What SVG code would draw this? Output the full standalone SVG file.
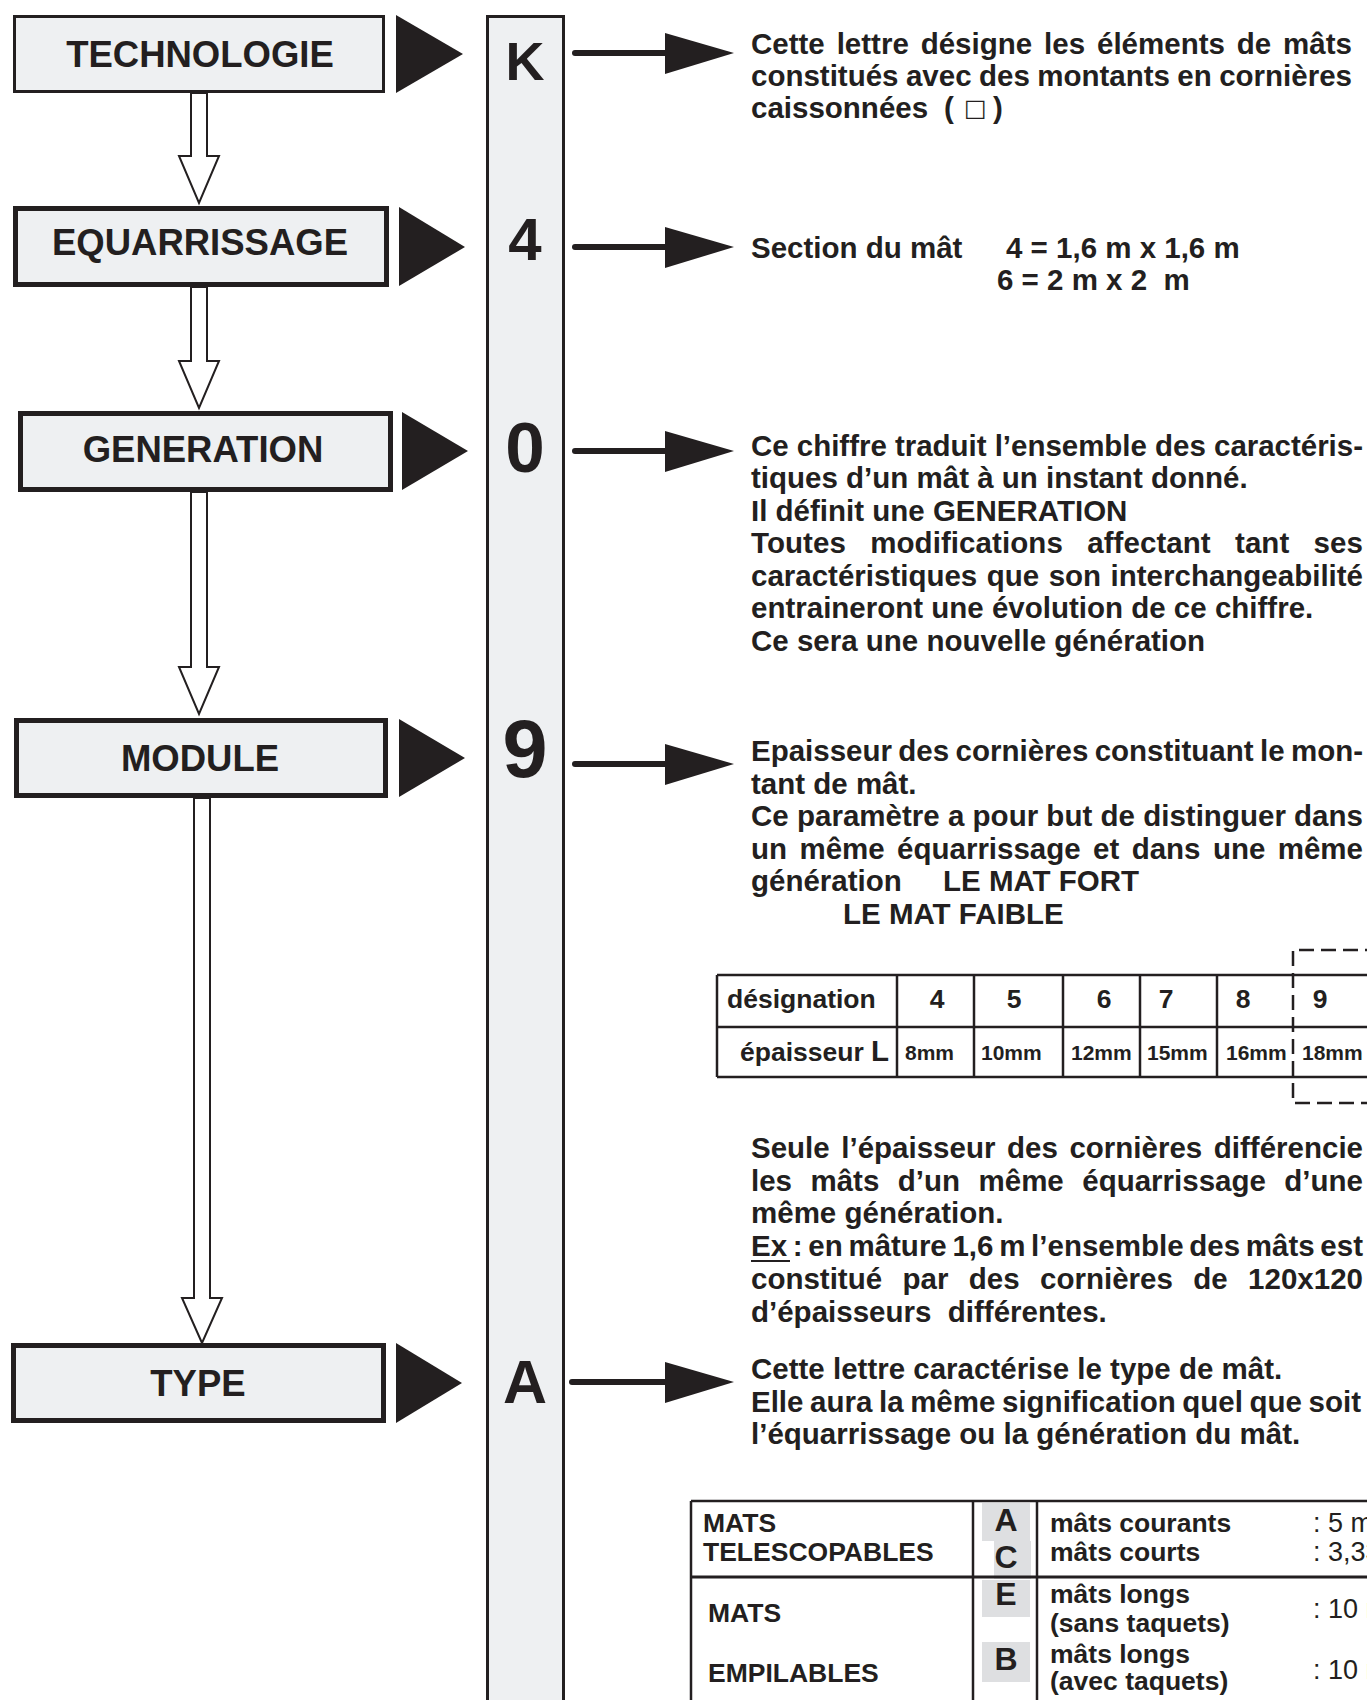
<svg xmlns="http://www.w3.org/2000/svg" width="1367" height="1700" viewBox="0 0 1367 1700">
  <style>
    .box { fill: #eef0f2; stroke: #231f20; stroke-width: 5; }
    .lbl { font-family: "Liberation Sans", Arial, sans-serif; font-weight: bold; font-size: 36.5px; fill: #231f20; text-anchor: middle; }
    .big { font-family: "Liberation Sans", Arial, sans-serif; font-weight: bold; fill: #231f20; text-anchor: middle; }
    .t { font-family: "Liberation Sans", Arial, sans-serif; font-weight: bold; font-size: 29.5px; fill: #231f20; }
    .tb { font-family: "Liberation Sans", Arial, sans-serif; font-weight: bold; font-size: 26.5px; fill: #231f20; }
    .sm { font-family: "Liberation Sans", Arial, sans-serif; font-weight: bold; font-size: 21px; fill: #231f20; }
    .rg { font-family: "Liberation Sans", Arial, sans-serif; font-weight: normal; font-size: 27px; fill: #231f20; }
    .tri { fill: #231f20; }
    .hollow { fill: #ffffff; stroke: #231f20; stroke-width: 2; stroke-linejoin: miter; }
    .shaft { stroke: #231f20; stroke-width: 6; stroke-linecap: round; }
    .head { fill: #231f20; }
    .grid { stroke: #231f20; stroke-width: 2.5; fill: none; }
    .dash { stroke: #231f20; stroke-width: 2.5; fill: none; stroke-dasharray: 15 7; }
    .hl { fill: #dedfe1; }
  </style>

  <!-- code column -->
  <g id="code-bar">
    <rect x="487.5" y="16.5" width="76" height="1700" fill="#eef0f2" stroke="#231f20" stroke-width="3"/>
    <text class="big" x="525" y="80" font-size="54">K</text>
    <text class="big" x="525" y="260" font-size="60">4</text>
    <text class="big" x="525" y="472" font-size="71">0</text>
    <text class="big" x="525" y="777" font-size="81">9</text>
    <text class="big" x="525" y="1403" font-size="61">A</text>
  </g>

  <!-- field boxes -->
  <g id="node-technologie">
    <rect class="box" x="14.5" y="16.5" width="369" height="75" style="stroke-width:3"/>
    <text class="lbl" x="200" y="67">TECHNOLOGIE</text>
  </g>
  <g id="node-equarrissage">
    <rect class="box" x="15.5" y="208.5" width="371" height="76"/>
    <text class="lbl" x="200" y="255">EQUARRISSAGE</text>
  </g>
  <g id="node-generation">
    <rect class="box" x="20.5" y="413.5" width="370" height="76"/>
    <text class="lbl" x="203" y="462">GENERATION</text>
  </g>
  <g id="node-module">
    <rect class="box" x="16.5" y="720.5" width="369" height="75"/>
    <text class="lbl" x="200" y="771">MODULE</text>
  </g>
  <g id="node-type">
    <rect class="box" x="13.5" y="1345.5" width="370" height="75"/>
    <text class="lbl" x="198" y="1396">TYPE</text>
  </g>

  <!-- connectors -->
  <g id="connectors">
    <!-- hollow arrows between fields -->
    <polygon class="hollow" points="191,93 191,156 179,156 199,203 219,156 207,156 207,93"/>
    <polygon class="hollow" points="191,287 191,361 179,361 199,408 219,361 207,361 207,287"/>
    <polygon class="hollow" points="191,492 191,667 179,667 199,714 219,667 207,667 207,492"/>
    <polygon class="hollow" points="194,798 194,1298 182,1298 202,1343 222,1298 210,1298 210,798"/>
    <!-- field to code -->
    <polygon class="tri" points="396,15 396,93 463,54"/>
    <polygon class="tri" points="399,207 399,286 465,247"/>
    <polygon class="tri" points="402,412 402,490 468,451"/>
    <polygon class="tri" points="399,719 399,797 465,758"/>
    <polygon class="tri" points="396,1343 396,1423 462,1383"/>
    <!-- code to description -->
    <line class="shaft" x1="575" y1="53" x2="668" y2="53"/>
    <polygon class="head" points="665,33 665,74 734,53"/>
    <line class="shaft" x1="575" y1="247" x2="668" y2="247"/>
    <polygon class="head" points="665,227 665,268 734,247"/>
    <line class="shaft" x1="575" y1="451" x2="668" y2="451"/>
    <polygon class="head" points="665,431 665,472 734,451"/>
    <line class="shaft" x1="575" y1="764" x2="668" y2="764"/>
    <polygon class="head" points="665,744 665,785 734,764"/>
    <line class="shaft" x1="572" y1="1382" x2="668" y2="1382"/>
    <polygon class="head" points="665,1362 665,1403 734,1382"/>
  </g>

  <!-- K : technology -->
  <g id="desc-technologie">
    <text class="t" x="751" y="54" textLength="601" style="word-spacing:3.7px">Cette lettre désigne les éléments de mâts</text>
    <text class="t" x="751" y="86" textLength="601" style="word-spacing:-0.8px">constitués avec des montants en cornières</text>
    <text class="t" x="751" y="118">caissonnées</text>
    <text class="t" x="944" y="118">(</text>
    <text x="964" y="116" font-family="DejaVu Sans, sans-serif" font-size="24" fill="#231f20">□</text>
    <text class="t" x="993" y="118">)</text>
  </g>

  <!-- 4 : section -->
  <g id="desc-equarrissage">
    <text class="t" x="751" y="258">Section du mât</text>
    <text class="t" x="1006" y="258">4 = 1,6 m x 1,6 m</text>
    <text class="t" x="997" y="290" xml:space="preserve">6 = 2 m x 2  m</text>
  </g>

  <!-- 0 : generation -->
  <g id="desc-generation">
    <text class="t" x="751" y="456" textLength="612">Ce chiffre traduit l’ensemble des caractéris-</text>
    <text class="t" x="751" y="488">tiques d’un mât à un instant donné.</text>
    <text class="t" x="751" y="521">Il définit une GENERATION</text>
    <text class="t" x="751" y="553" textLength="612" style="word-spacing:16px">Toutes modifications affectant tant ses</text>
    <text class="t" x="751" y="586" textLength="612" style="word-spacing:1.3px">caractéristiques que son interchangeabilité</text>
    <text class="t" x="751" y="618">entraineront une évolution de ce chiffre.</text>
    <text class="t" x="751" y="651">Ce sera une nouvelle génération</text>
  </g>

  <!-- 9 : module -->
  <g id="desc-module">
    <text class="t" x="751" y="761" textLength="612" style="word-spacing:-1.8px">Epaisseur des cornières constituant le mon-</text>
    <text class="t" x="751" y="794">tant de mât.</text>
    <text class="t" x="751" y="826" textLength="612">Ce paramètre a pour but de distinguer dans</text>
    <text class="t" x="751" y="859" textLength="612" style="word-spacing:4.2px">un même équarrissage et dans une même</text>
    <text class="t" x="751" y="891">génération</text>
    <text class="t" x="943" y="891">LE MAT FORT</text>
    <text class="t" x="843" y="924">LE MAT FAIBLE</text>
  </g>

  <!-- thickness table -->
  <g id="table-epaisseur">
    <line class="grid" x1="717" y1="975" x2="1367" y2="975"/>
    <line class="grid" x1="717" y1="1027" x2="1367" y2="1027"/>
    <line class="grid" x1="717" y1="1077" x2="1367" y2="1077"/>
    <line class="grid" x1="717" y1="975" x2="717" y2="1077"/>
    <line class="grid" x1="897" y1="975" x2="897" y2="1077"/>
    <line class="grid" x1="974" y1="975" x2="974" y2="1077"/>
    <line class="grid" x1="1063" y1="975" x2="1063" y2="1077"/>
    <line class="grid" x1="1140" y1="975" x2="1140" y2="1077"/>
    <line class="grid" x1="1217" y1="975" x2="1217" y2="1077"/>
    <path class="dash" d="M1380,950 H1293 V1103 H1380"/>
    <text class="tb" x="727" y="1008">désignation</text>
    <text class="tb" x="937" y="1008" text-anchor="middle">4</text>
    <text class="tb" x="1014" y="1008" text-anchor="middle">5</text>
    <text class="tb" x="1104" y="1008" text-anchor="middle">6</text>
    <text class="tb" x="1166" y="1008" text-anchor="middle">7</text>
    <text class="tb" x="1243" y="1008" text-anchor="middle">8</text>
    <text class="tb" x="1320" y="1008" text-anchor="middle">9</text>
    <text class="tb" x="740" y="1061">épaisseur <tspan font-size="29.5">L</tspan></text>
    <text class="sm" x="905" y="1060">8mm</text>
    <text class="sm" x="981" y="1060">10mm</text>
    <text class="sm" x="1071" y="1060">12mm</text>
    <text class="sm" x="1147" y="1060">15mm</text>
    <text class="sm" x="1226" y="1060">16mm</text>
    <text class="sm" x="1302" y="1060">18mm</text>
  </g>

  <!-- note on thickness -->
  <g id="desc-epaisseur">
    <text class="t" x="751" y="1158" textLength="612" style="word-spacing:3.4px">Seule l’épaisseur des cornières différencie</text>
    <text class="t" x="751" y="1191" textLength="612" style="word-spacing:10.3px">les mâts d’un même équarrissage d’une</text>
    <text class="t" x="751" y="1223">même génération.</text>
    <text class="t" x="751" y="1256" textLength="612" style="word-spacing:-2.5px">Ex : en mâture 1,6 m l’ensemble des mâts est</text>
    <line x1="751" y1="1261" x2="790" y2="1261" stroke="#231f20" stroke-width="2"/>
    <text class="t" x="751" y="1289" textLength="612" style="word-spacing:12.2px">constitué par des cornières de 120x120</text>
    <text class="t" x="751" y="1322" xml:space="preserve">d’épaisseurs  différentes.</text>
  </g>

  <!-- A : type -->
  <g id="desc-type">
    <text class="t" x="751" y="1379">Cette lettre caractérise le type de mât.</text>
    <text class="t" x="751" y="1412" textLength="610" style="word-spacing:-1.6px">Elle aura la même signification quel que soit</text>
    <text class="t" x="751" y="1444">l’équarrissage ou la génération du mât.</text>
  </g>

  <!-- type table -->
  <g id="table-type">
    <rect class="hl" x="982" y="1503" width="48" height="38"/>
    <rect class="hl" x="994" y="1541" width="37" height="38"/>
    <rect class="hl" x="982" y="1580" width="48" height="37"/>
    <rect class="hl" x="982" y="1642" width="48" height="40"/>
    <line class="grid" x1="691" y1="1501" x2="1367" y2="1501"/>
    <line class="grid" x1="691" y1="1577" x2="1367" y2="1577" style="stroke-width:3"/>
    <line class="grid" x1="691" y1="1501" x2="691" y2="1700"/>
    <line class="grid" x1="973" y1="1501" x2="973" y2="1700"/>
    <line class="grid" x1="1037" y1="1501" x2="1037" y2="1700"/>
    <text class="tb" x="703" y="1532">MATS</text>
    <text class="tb" x="703" y="1561">TELESCOPABLES</text>
    <text class="tb" x="708" y="1622">MATS</text>
    <text class="tb" x="708" y="1682">EMPILABLES</text>
    <text class="big" x="1006" y="1531" font-size="32">A</text>
    <text class="big" x="1006" y="1568" font-size="32">C</text>
    <text class="big" x="1006" y="1605" font-size="32">E</text>
    <text class="big" x="1006" y="1670" font-size="32">B</text>
    <text class="tb" x="1050" y="1532">mâts courants</text>
    <text class="tb" x="1050" y="1561">mâts courts</text>
    <text class="tb" x="1050" y="1603">mâts longs</text>
    <text class="tb" x="1050" y="1632">(sans taquets)</text>
    <text class="tb" x="1050" y="1663">mâts longs</text>
    <text class="tb" x="1050" y="1690">(avec taquets)</text>
    <text class="rg" x="1313" y="1532">: 5 m</text>
    <text class="rg" x="1313" y="1561">: 3,33</text>
    <text class="rg" x="1313" y="1618">: 10 m</text>
    <text class="rg" x="1313" y="1679">: 10 m</text>
  </g>
</svg>
